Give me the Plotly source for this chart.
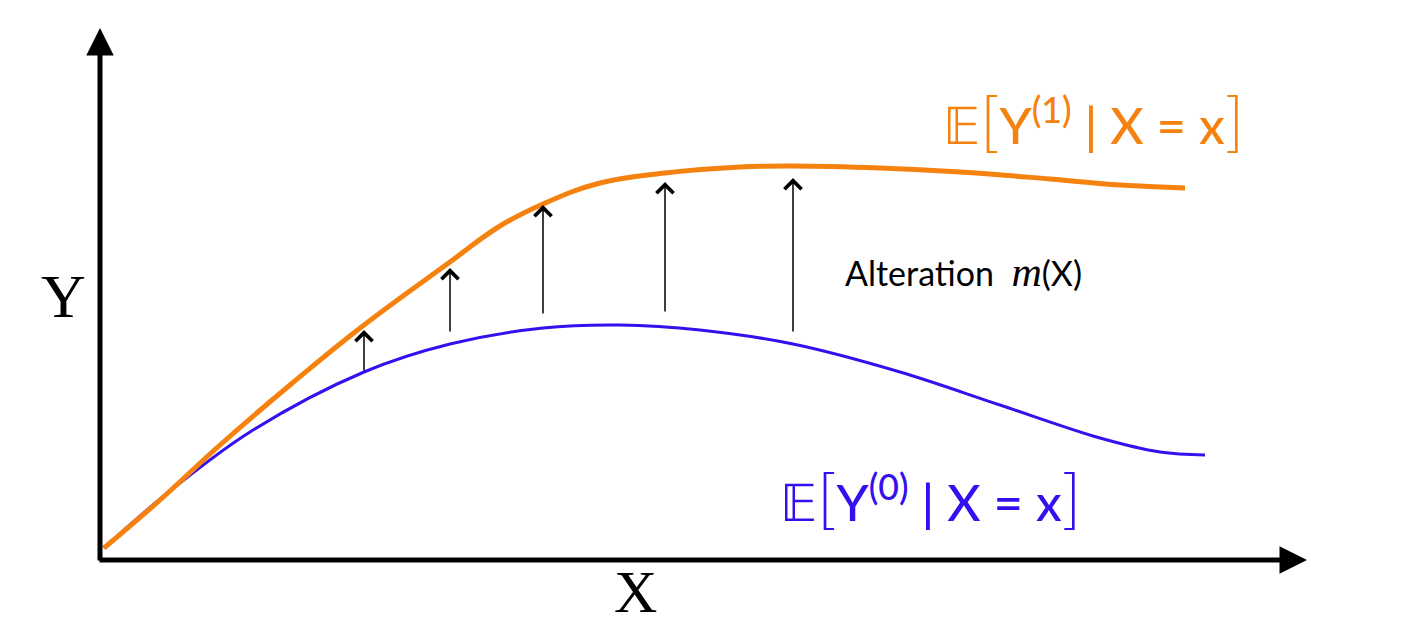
import plotly.graph_objects as go

# schematic coordinates: x to the right, y upwards (page is 1404 x 624)
orange_x = [104, 160, 220, 290, 364, 450, 500, 543, 600, 665, 740, 793, 880, 960, 1050, 1120, 1185]
orange_y = [76, 124, 179, 239, 299, 362, 398, 420, 441, 451, 457, 458, 456, 452, 445, 439, 436]

blue_x = [104, 165, 250, 364, 450, 543, 620, 700, 793, 900, 1000, 1100, 1160, 1205]
blue_y = [76, 129, 192, 252, 280, 296, 299, 294, 280, 252, 219, 186, 172, 169]

# alteration arrows: x, bottom, tip
arrow_x = [364, 450, 543, 665, 793]
arrow_from = [252, 291, 309, 311, 291]
arrow_to = [294, 356, 419, 442, 446]

ORANGE = "#F5820F"
BLUE = "#3510EE"

fig = go.Figure()

fig.add_trace(go.Scatter(x=blue_x, y=blue_y, mode="lines",
                         line=dict(color=BLUE, width=3, shape="spline", smoothing=1.0),
                         hoverinfo="skip", showlegend=False))
fig.add_trace(go.Scatter(x=orange_x, y=orange_y, mode="lines",
                         line=dict(color=ORANGE, width=5, shape="spline", smoothing=1.2),
                         hoverinfo="skip", showlegend=False))

ann = []
# axes with arrow heads
ann.append(dict(x=100, y=596, ax=100, ay=62, xref="x", yref="y", axref="x", ayref="y",
                showarrow=True, arrowhead=2, arrowsize=1.1, arrowwidth=5, arrowcolor="black", text=""))
ann.append(dict(x=1307, y=64, ax=98, ay=64, xref="x", yref="y", axref="x", ayref="y",
                showarrow=True, arrowhead=2, arrowsize=1.1, arrowwidth=5, arrowcolor="black", text=""))

for xa, y0, y1 in zip(arrow_x, arrow_from, arrow_to):
    ann.append(dict(x=xa, y=y1, ax=xa, ay=y0, xref="x", yref="y", axref="x", ayref="y",
                    showarrow=True, arrowhead=4, arrowsize=2.2, arrowwidth=1.5,
                    arrowcolor="black", text=""))

big = '<span style="font-size:66px;font-weight:300">'
ann.append(dict(x=1093, y=506, xref="x", yref="y", showarrow=False,
                text="𝔼" + big + "[</span>Y<sup>(1)</sup> | X = x" + big + "]</span>",
                font=dict(family="Lato", size=51, color=ORANGE, weight=500)))
ann.append(dict(x=930, y=129, xref="x", yref="y", showarrow=False,
                text="𝔼" + big + "[</span>Y<sup>(0)</sup> | X = x" + big + "]</span>",
                font=dict(family="Lato", size=51, color=BLUE, weight=500)))
ann.append(dict(x=963, y=352, xref="x", yref="y", showarrow=False,
                text='Alteration  <span style="font-family:Liberation Serif;font-size:42px"><i>m</i></span>(X)',
                font=dict(family="Lato", size=34, color="black")))
ann.append(dict(x=63, y=328, xref="x", yref="y", showarrow=False, text="Y",
                font=dict(family="Liberation Serif", size=62, color="black")))
ann.append(dict(x=635, y=32, xref="x", yref="y", showarrow=False, text="X",
                font=dict(family="Liberation Serif", size=60, color="black")))

# the page body has an 8px margin, so the figure is 16px smaller and the
# ranges keep one data unit per pixel of the 1404x624 page
fig.update_layout(
    width=1388, height=608,
    margin=dict(l=0, r=0, t=0, b=0),
    paper_bgcolor="white", plot_bgcolor="white",
    xaxis=dict(range=[8, 1396], visible=False, fixedrange=True),
    yaxis=dict(range=[8, 616], visible=False, fixedrange=True),
    annotations=ann,
    showlegend=False,
)

fig.write_html("out.html")
